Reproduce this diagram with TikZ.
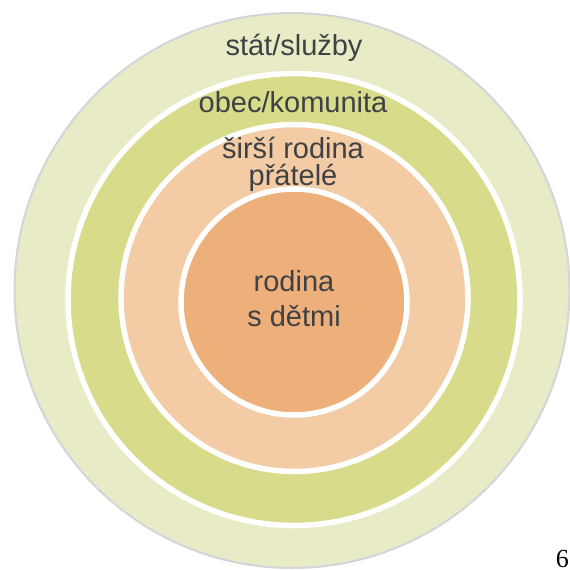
\documentclass[tikz,border=0pt]{standalone}
\usepackage{fontspec}
\setmainfont{Liberation Sans}
\newfontfamily\pagefont{Liberation Serif}

\definecolor{statfill}{HTML}{E8EBC5}
\definecolor{statline}{HTML}{D4D5DA}
\definecolor{obecfill}{HTML}{D7DB8A}
\definecolor{sirsifill}{HTML}{F3CBA4}
\definecolor{rodinafill}{HTML}{EDB07B}
\definecolor{textgray}{HTML}{3F4144}

\tikzset{
  ring/.style={circle, draw=white, line width=5.5pt, inner sep=0pt},
  ringtext/.style={anchor=base, inner sep=0pt, text=textgray, font=\fontsize{29}{29}\selectfont}
}

\begin{document}
\begin{tikzpicture}[x=1pt,y=-1pt]
\useasboundingbox (0,0) rectangle (570,570);

\node[circle, draw=statline, line width=2pt, fill=statfill, inner sep=0pt, minimum size=555pt] (stat) at (292,290.5) {};
\node[ring, fill=obecfill, minimum size=452pt] (obec) at (294,299.5) {};
\node[ring, fill=sirsifill, minimum size=347pt] (sirsi) at (294.5,298) {};
\node[ring, fill=rodinafill, minimum size=226pt] (rodina) at (294,302) {};

\node[ringtext] (statlabel) at (294,55) {stát/služby};
\node[ringtext] (obeclabel) at (293,112.7) {obec/komunita};
\node[ringtext] (sirsilabel) at (293,158) {širší rodina};
\node[ringtext] (pratelelabel) at (293,185.7) {přátelé};
\node[ringtext] (rodinalabel) at (294,291.7) {rodina};
\node[ringtext] (detilabel) at (294,326.7) {s dětmi};

\node[anchor=base east, inner sep=0pt, font=\pagefont\fontsize{26}{26}\selectfont] (page) at (569,567.5) {6};
\end{tikzpicture}
\end{document}
